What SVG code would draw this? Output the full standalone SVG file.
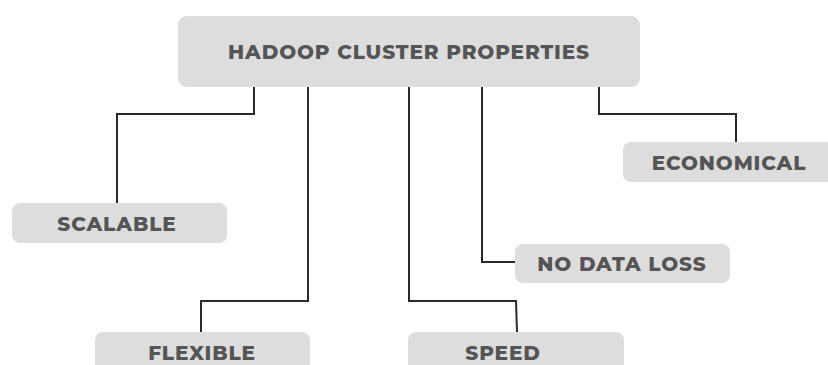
<svg xmlns="http://www.w3.org/2000/svg" width="828" height="365" viewBox="0 0 828 365">
<style>
.box{fill:#dddddd}
.lbl{font-family:"Montserrat","Liberation Sans",Arial,sans-serif;font-weight:800;fill:#555555;text-anchor:middle;dominant-baseline:central;font-size:20px;letter-spacing:0.9px}
.con{fill:none;stroke:#2a2a2a;stroke-width:2}
</style>
<rect width="828" height="365" fill="#ffffff"/>
<g id="connectors">
<polyline class="con" points="254,87 254,114 117,114 117,203"/>
<polyline class="con" points="308,87 308,301 201,301 201,332"/>
<polyline class="con" points="409,87 409,301 516,301 517,332"/>
<polyline class="con" points="482,87 482,262 516,262"/>
<polyline class="con" points="599,87 599,114 736,114 736,142"/>
</g>
<g id="main">
<rect class="box" x="178" y="16" width="462" height="71" rx="9"/>
<text class="lbl" x="409" y="52" font-size="21">HADOOP CLUSTER PROPERTIES</text>
</g>
<g id="scalable">
<rect class="box" x="12" y="203" width="215" height="40" rx="8"/>
<text class="lbl" x="117" y="224">SCALABLE</text>
</g>
<g id="flexible">
<rect class="box" x="95" y="332" width="215" height="45" rx="8"/>
<text class="lbl" x="202" y="353">FLEXIBLE</text>
</g>
<g id="speed">
<rect class="box" x="408" y="332" width="216" height="45" rx="8"/>
<text class="lbl" x="503" y="353">SPEED</text>
</g>
<g id="nodataloss">
<rect class="box" x="515" y="244" width="215" height="39" rx="8"/>
<text class="lbl" x="622" y="264">NO DATA LOSS</text>
</g>
<g id="economical">
<rect class="box" x="623" y="142" width="215" height="40" rx="8"/>
<text class="lbl" x="729" y="163">ECONOMICAL</text>
</g>
</svg>
